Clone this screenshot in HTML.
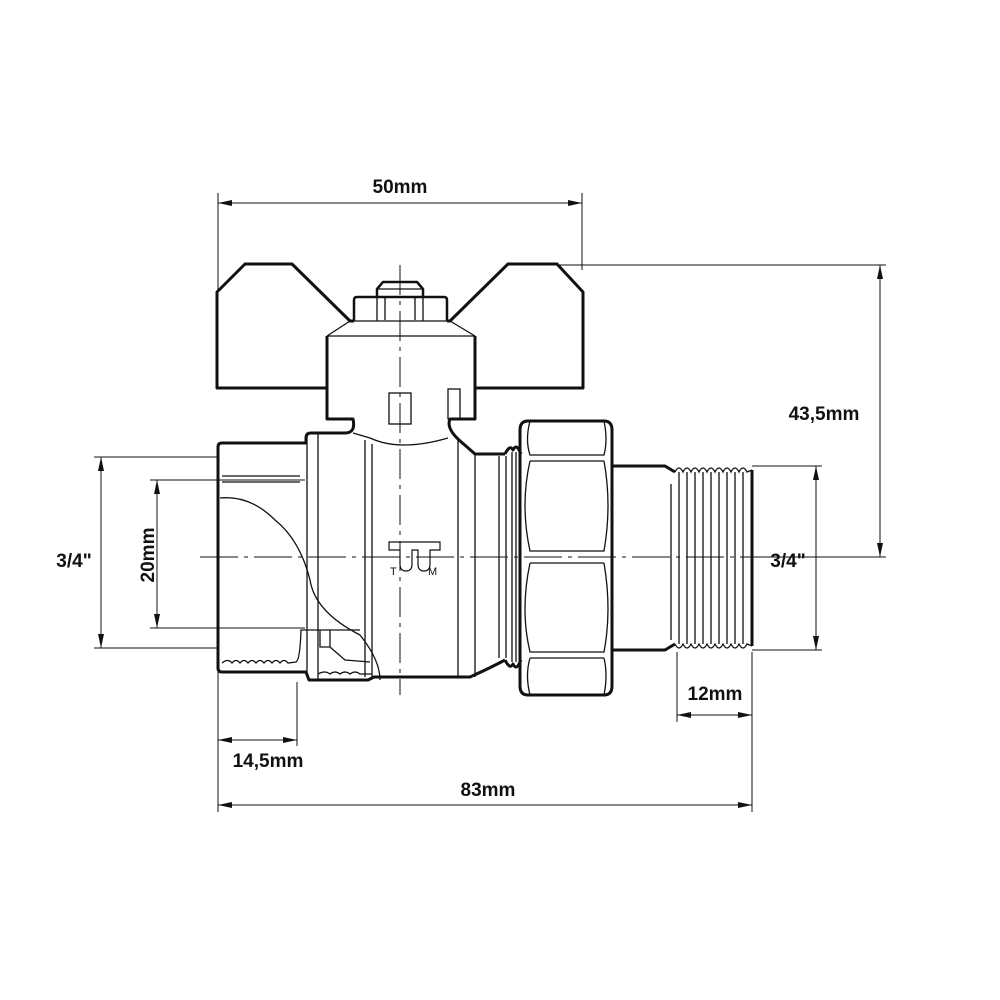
<!DOCTYPE html>
<html><head><meta charset="utf-8"><style>
html,body{margin:0;padding:0;background:#fff;width:1000px;height:1000px;overflow:hidden}
text{font-family:"Liberation Sans",Arial,sans-serif;font-weight:bold;font-size:19px;fill:#111}
</style></head><body>
<svg width="1000" height="1000" viewBox="0 0 1000 1000" xmlns="http://www.w3.org/2000/svg">
<defs>
<marker id="a" viewBox="0 0 14 6" refX="14" refY="3" markerWidth="14" markerHeight="6" orient="auto-start-reverse" markerUnits="userSpaceOnUse"><path d="M0,0 L14,3 L0,6 Z" fill="#111"/></marker>
</defs>
<g stroke="#111" stroke-width="1" fill="none">
<line x1="218" y1="193" x2="218" y2="292"/>
<line x1="582" y1="193" x2="582" y2="270"/>
<line x1="555" y1="265" x2="886" y2="265"/>
<line x1="760" y1="557" x2="886" y2="557"/>
<line x1="94" y1="457" x2="218" y2="457"/>
<line x1="94" y1="648" x2="218" y2="648"/>
<line x1="150" y1="480" x2="305" y2="480"/>
<line x1="150" y1="628" x2="305" y2="628"/>
<line x1="752" y1="466" x2="822" y2="466"/>
<line x1="752" y1="650" x2="822" y2="650"/>
<line x1="218" y1="672" x2="218" y2="812"/>
<line x1="297" y1="682" x2="297" y2="746"/>
<line x1="752" y1="652" x2="752" y2="812"/>
<line x1="677" y1="652" x2="677" y2="722"/>
<line x1="218" y1="203" x2="582" y2="203" marker-start="url(#a)" marker-end="url(#a)"/>
<line x1="880" y1="265" x2="880" y2="557" marker-start="url(#a)" marker-end="url(#a)"/>
<line x1="101" y1="457" x2="101" y2="648" marker-start="url(#a)" marker-end="url(#a)"/>
<line x1="157" y1="480" x2="157" y2="628" marker-start="url(#a)" marker-end="url(#a)"/>
<line x1="816" y1="466" x2="816" y2="650" marker-start="url(#a)" marker-end="url(#a)"/>
<line x1="677" y1="715" x2="752" y2="715" marker-start="url(#a)" marker-end="url(#a)"/>
<line x1="218" y1="740" x2="297" y2="740" marker-start="url(#a)" marker-end="url(#a)"/>
<line x1="218" y1="805" x2="752" y2="805" marker-start="url(#a)" marker-end="url(#a)"/>
<line x1="200" y1="557" x2="765" y2="557" stroke-dasharray="38,6,4,6"/>
<line x1="400" y1="265" x2="400" y2="695" stroke-dasharray="30,6,4,6"/>
</g>
<g stroke="#111" stroke-width="3" fill="none" stroke-linejoin="round">
<!-- handle wings -->
<path d="M354,321 L350,321 L292,264 L245,264 L217,292 L217,388 L327,388"/>
<path d="M447,321 L450,321 L508,264 L557,264 L583,292 L583,388 L475,388"/>
<!-- cap + body outline -->
<path d="M327,336 L327,419 L353,419 Q356,433 345,433 L311,433 Q306,433 306,438 L306,443 L222,443 Q218,443 218,447 L218,668 Q218,672 222,672 L306,672 L309,680 L368,680 L374,677 L470,677 Q490,668 505,660"/>
<path d="M475,336 L475,419 L450,419 Q446,428 459,440 L475,454 L505,454"/>
<path d="M505,454 Q510,444 513,450 Q516,444 519,450 L521,454 M505,660 Q510,670 513,664 Q516,670 519,664 L521,660"/>
<!-- hex nut -->
<path d="M520,430 Q520,421 528,421 L604,421 Q612,421 612,430 L612,686 Q612,695 604,695 L528,695 Q520,695 520,686 Z"/>
<path d="M612,466 L665,466 L675,472 M612,650 L665,650 L675,644"/>
<path d="M752,470 L752,646"/>
<!-- packing nut -->
<path d="M354,321 L354,300 Q354,297 357,297 L444,297 Q447,297 447,300 L447,321" stroke-width="2.5"/>
<path d="M377,297 L377,289 L383,282 L417,282 L423,289 L423,297" stroke-width="2.5"/>
</g>
<g stroke="#111" stroke-width="1.3" fill="none">
<path d="M327,336 L475,336 M327,336 L350,321 M475,336 L450,321 M354,321 L447,321"/>
<line x1="377" y1="289" x2="423" y2="289"/>
<line x1="377" y1="297" x2="377" y2="321"/><line x1="423" y1="297" x2="423" y2="321"/>
<line x1="385" y1="297" x2="385" y2="320"/><line x1="415" y1="297" x2="415" y2="320"/>
<rect x="389" y="393" width="22" height="31"/>
<rect x="448" y="389" width="12" height="30"/>
<path d="M353,433 L370,438 Q400,452 448,438"/>
<line x1="307" y1="435" x2="307" y2="672"/><line x1="318" y1="433" x2="318" y2="680"/>
<line x1="365" y1="440" x2="365" y2="677"/><line x1="372" y1="444" x2="372" y2="677"/>
<line x1="458" y1="440" x2="458" y2="677"/><line x1="475" y1="454" x2="475" y2="677"/>
<line x1="499" y1="456" x2="499" y2="658"/><line x1="506" y1="456" x2="506" y2="658"/>
<line x1="512" y1="452" x2="512" y2="662"/><line x1="516" y1="452" x2="516" y2="662"/>
<path d="M222,476 L300,476 M222,482 L300,482"/>
<path d="M220,498 Q250,495 275,520 Q300,540 310,580 Q315,612 360,635 Q380,660 380,680"/>
<path d="M222,663 Q228,658 232,663 Q236,658 240,663 Q244,658 248,663 Q252,658 256,663 Q260,658 264,663 Q268,658 272,663 Q276,658 280,663 Q284,658 288,663 L296,662 Q300,660 301,630 L360,630"/>
<path d="M320,630 L320,647 L330,647 L330,630 M330,647 L345,660 L370,662"/>
<path d="M318,674 Q325,670 330,674 Q335,670 340,674 Q345,670 350,674 Q355,670 360,674 L372,674"/>
<path d="M530,421 Q525,440 530,455 L604,455 Q608,440 604,421"/>
<line x1="530" y1="461" x2="604" y2="461"/>
<path d="M530,461 Q520,505 530,551 L604,551 Q612,505 604,461"/>
<line x1="530" y1="563" x2="604" y2="563"/>
<path d="M530,563 Q520,610 530,652 L604,652 Q612,610 604,563"/>
<line x1="530" y1="658" x2="604" y2="658"/>
<path d="M530,658 Q525,675 530,695 M604,658 Q608,675 604,695"/>
<path d="M675,472 Q679,464 683,472 Q687,464 691,472 Q695,464 699,472 Q703,464 707,472 Q711,464 715,472 Q719,464 723,472 Q727,464 731,472 Q735,464 739,472 Q743,464 747,472 L752,470"/>
<path d="M675,644 Q679,652 683,644 Q687,652 691,644 Q695,652 699,644 Q703,652 707,644 Q711,652 715,644 Q719,652 723,644 Q727,652 731,644 Q735,652 739,644 Q743,652 747,644 L752,646"/>
<line x1="671" y1="484" x2="671" y2="640"/>
<line x1="679" y1="472" x2="679" y2="644"/><line x1="687" y1="472" x2="687" y2="644"/>
<line x1="695" y1="472" x2="695" y2="644"/><line x1="703" y1="472" x2="703" y2="644"/>
<line x1="711" y1="472" x2="711" y2="644"/><line x1="719" y1="472" x2="719" y2="644"/>
<line x1="727" y1="472" x2="727" y2="644"/><line x1="735" y1="472" x2="735" y2="644"/>
<line x1="743" y1="472" x2="743" y2="644"/>
</g>
<g stroke="#111" stroke-width="1.2" fill="none">
<path d="M389,542 L440,542 L440,550 L430,550 L430,564 Q430,571 424,571 Q418,571 418,564 L418,550 L412,550 L412,564 Q412,571 406,571 Q400,571 400,564 L400,550 L389,550 Z"/>
</g>
<text x="390" y="575" style="font-size:11px;font-weight:normal">T</text>
<text x="428" y="575" style="font-size:11px;font-weight:normal">M</text>
<text x="400" y="193" text-anchor="middle">50mm</text>
<text x="824" y="420" text-anchor="middle">43,5mm</text>
<text x="74" y="567" text-anchor="middle">3/4"</text>
<text x="788" y="567" text-anchor="middle">3/4"</text>
<text transform="translate(154,555) rotate(-90)" text-anchor="middle">20mm</text>
<text x="715" y="700" text-anchor="middle">12mm</text>
<text x="268" y="767" text-anchor="middle">14,5mm</text>
<text x="488" y="796" text-anchor="middle">83mm</text>
</svg>
</body></html>
